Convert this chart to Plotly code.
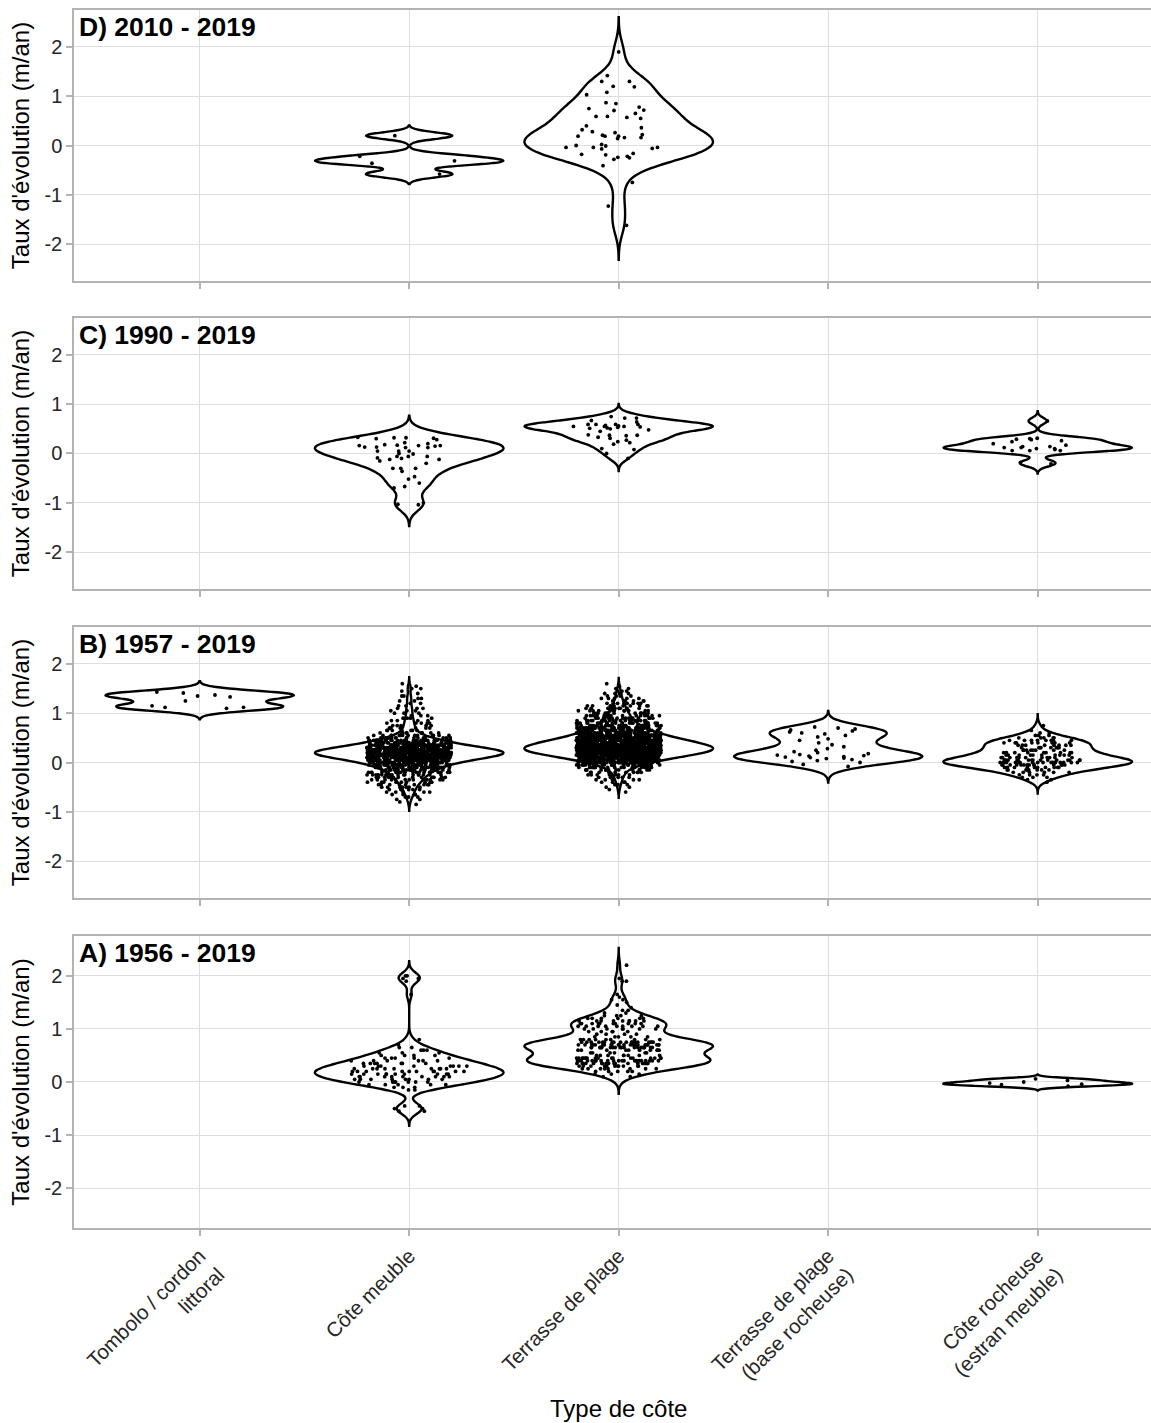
import numpy as np
import plotly.graph_objects as go

# ---------------- data ----------------
categories = ["Tombolo / cordon<br>littoral", "Côte meuble", "Terrasse de plage",
              "Terrasse de plage<br>(base rocheuse)", "Côte rocheuse<br>(estran meuble)"]
panel_titles = ["D) 2010 - 2019", "C) 1990 - 2019", "B) 1957 - 2019", "A) 1956 - 2019"]
y_ticks = [-2, -1, 0, 1, 2]

# Panel D (2010 - 2019)
d_meuble = [0.20, -0.22, -0.31, -0.36, -0.58]
d_terrasse = [1.90, 1.42, 1.30, 1.19, 1.30, 1.20, 1.08, 1.03, 0.87, 0.85, 0.78, 0.75, 0.72,
              0.71, 0.65, 0.59, 0.59, 0.55, 0.57, 0.40, 0.36, 0.32, 0.26, 0.28, 0.22, 0.21,
              0.19, 0.19, 0.19, 0.16, 0.14, 0.16, 0.00, -0.01, 0.02, -0.04, -0.04, -0.06,
              -0.04, -0.07, -0.18, -0.16, -0.19, -0.24, -0.22, -0.25, -0.28, -0.41, -0.75,
              -1.23, -1.62]

# Panel C (1990 - 2019)
c_meuble = [0.31, 0.30, 0.32, 0.33, 0.12, 0.05, 0.16, 0.15, 0.16, 0.05, 0.05, -0.06, -0.06,
            -0.09, -0.12, -0.10, -0.36, -0.30, -0.67, -0.70, -0.60, -1.03, -1.00, -1.04,
            0.28, 0.32, 0.13, 0.13, 0.20, 0.22, 0.18, 0.16, 0.17, 0.12, 0.00, -0.01, -0.06,
            -0.12, -0.15, -0.20, -0.30, -0.30, -0.47, -0.52]
c_terrasse = [0.75, 0.72, 0.64, 0.72, 0.67, 0.59, 0.59, 0.55, 0.59, 0.59, 0.55, 0.55, 0.52,
              0.53, 0.54, 0.56, 0.51, 0.57, 0.50, 0.48, 0.37, 0.37, 0.45, 0.36, 0.38, 0.33,
              0.27, 0.22, 0.19, 0.31, 0.24, 0.08, 0.10, 0.00, -0.10]
c_rocheuse = [0.66, 0.31, 0.24, 0.26, 0.29, 0.14, 0.06, 0.06, 0.14, 0.10, 0.10, 0.08, 0.12,
              0.17, 0.06, 0.28, 0.20, 0.30, 0.12, -0.18, -0.21]

# Panel B (1957 - 2019)
b_tombolo = [1.35, 1.43, 1.15, 1.10, 1.12, 1.37, 1.41, 1.33, 1.25, 1.12]
b_meuble_bins = [-0.85, -0.80, -0.75, -0.70, -0.65, -0.60, -0.55, -0.50, -0.45, -0.40, -0.35,
                 -0.30, -0.25, -0.20, -0.15, -0.10, -0.05, 0.00, 0.05, 0.10, 0.15, 0.20, 0.25,
                 0.30, 0.35, 0.40, 0.45, 0.50, 0.55, 0.60, 0.65, 0.70, 0.75, 0.80, 0.85, 0.90,
                 0.95, 1.00, 1.05, 1.10, 1.15, 1.20, 1.25, 1.30, 1.35, 1.40, 1.45, 1.50, 1.55,
                 1.60]
b_meuble_counts = [1, 1, 2, 3, 4, 5, 6, 7, 9, 11, 13, 15, 18, 21, 25, 30, 38, 48, 60, 75, 90,
                   95, 88, 72, 56, 42, 32, 22, 14, 10, 7, 6, 5, 5, 4, 4, 3, 3, 3, 3, 2, 2, 2,
                   2, 2, 1, 1, 2, 1, 1]
b_terrasse_bins = [-0.60, -0.55, -0.50, -0.45, -0.40, -0.35, -0.30, -0.25, -0.20, -0.15, -0.10,
                   -0.05, 0.00, 0.05, 0.10, 0.15, 0.20, 0.25, 0.30, 0.35, 0.40, 0.45, 0.50,
                   0.55, 0.60, 0.65, 0.70, 0.75, 0.80, 0.85, 0.90, 0.95, 1.00, 1.05, 1.10,
                   1.15, 1.20, 1.25, 1.30, 1.35, 1.40, 1.45, 1.50, 1.55, 1.60]
b_terrasse_counts = [1, 1, 2, 3, 4, 5, 6, 8, 10, 14, 20, 30, 45, 60, 80, 100, 120, 130, 132,
                     125, 110, 95, 80, 66, 54, 44, 36, 30, 25, 21, 18, 16, 14, 12, 10, 9, 8,
                     6, 5, 4, 4, 3, 2, 1, 1]
b_base = [0.72, 0.70, 0.68, 0.66, 0.64, 0.62, 0.60, 0.58, 0.55, 0.52, 0.48, 0.45, 0.40, 0.36,
          0.32, 0.28, 0.25, 0.22, 0.20, 0.18, 0.16, 0.15, 0.14, 0.13, 0.12, 0.11, 0.10, 0.09,
          0.08, 0.06, 0.04, 0.02, 0.00, -0.04, -0.08]
b_rocheuse_bins = [-0.40, -0.35, -0.30, -0.25, -0.20, -0.15, -0.10, -0.05, 0.00, 0.05, 0.10,
                   0.15, 0.20, 0.25, 0.30, 0.35, 0.40, 0.45, 0.50, 0.55, 0.60, 0.65, 0.75]
b_rocheuse_counts = [1, 2, 3, 4, 6, 8, 10, 14, 18, 16, 12, 10, 9, 8, 8, 8, 9, 8, 5, 3, 2, 1, 1]

# Panel A (1956 - 2019)
a_meuble_bins = [-0.55, -0.50, -0.45, -0.15, -0.10, -0.05, 0.00, 0.05, 0.10, 0.15, 0.20,
                 0.25, 0.30, 0.35, 0.40, 0.45, 0.50, 0.55, 0.60, 0.65, 0.70, 0.80, 1.65, 1.90,
                 1.95, 2.00]
a_meuble_counts = [2, 2, 2, 2, 3, 5, 7, 8, 9, 10, 10, 9, 8, 7, 6, 5, 4, 3, 3, 2, 1, 1, 1, 1,
                   2, 2]
a_terrasse_bins = [0.10, 0.15, 0.20, 0.25, 0.30, 0.35, 0.40, 0.45, 0.50, 0.55, 0.60, 0.65,
                   0.70, 0.75, 0.80, 0.85, 0.90, 0.95, 1.00, 1.05, 1.10, 1.15, 1.20, 1.25,
                   1.30, 1.35, 1.40, 1.45, 1.50, 1.55, 1.60, 1.65, 1.90, 1.95, 2.20]
a_terrasse_counts = [2, 3, 5, 8, 12, 18, 22, 18, 8, 6, 10, 20, 24, 18, 9, 5, 4, 5, 7, 9, 10,
                     9, 6, 4, 2, 2, 1, 1, 1, 2, 1, 1, 2, 1, 1]
a_rocheuse = [-0.08, -0.05, -0.04, -0.02, 0.00, 0.03, 0.06]

# which category index each series belongs to, per panel (top to bottom: D, C, B, A)
panel_series = [
    [(1, d_meuble), (2, d_terrasse)],
    [(1, c_meuble), (2, c_terrasse), (4, c_rocheuse)],
    [(0, b_tombolo), (1, np.repeat(b_meuble_bins, b_meuble_counts)),
     (2, np.repeat(b_terrasse_bins, b_terrasse_counts)), (3, b_base),
     (4, np.repeat(b_rocheuse_bins, b_rocheuse_counts))],
    [(1, np.repeat(a_meuble_bins, a_meuble_counts)),
     (2, np.repeat(a_terrasse_bins, a_terrasse_counts)), (4, a_rocheuse)],
]

# ---------------- layout geometry ----------------
W, H = 1151, 1423
M_L, M_R, M_T, M_B = 74, 0, 10, 195
plot_h = H - M_T - M_B
panel_px = [(10, 281), (318, 589), (627, 898), (936, 1228)]
domains = [[1 - (b - M_T) / plot_h, 1 - (t - M_T) / plot_h] for t, b in panel_px]
domains = [[max(0, round(a, 5)), min(1, round(b, 5))] for a, b in domains]

FONT = "Liberation Sans, Arial, Helvetica, sans-serif"
GRID = "#DEDEDE"
BORDER = "#B3B3B3"
TXT = "#262626"


def nrd0(v):
    v = np.asarray(v, dtype=float)
    sd = np.std(v, ddof=1)
    iqr = np.subtract(*np.percentile(v, [75, 25]))
    lo = min(sd, iqr / 1.34)
    if lo <= 0:
        lo = sd if sd > 0 else (abs(v[0]) if v[0] != 0 else 1)
    return 0.9 * lo * len(v) ** (-0.2)


fig = go.Figure()
for p, series in enumerate(panel_series):
    ax = "" if p == 0 else str(p + 1)
    for idx, vals in series:
        vals = np.asarray(vals, dtype=float)
        bw = nrd0(vals)
        fig.add_trace(go.Violin(
            x=np.full(len(vals), idx), y=vals,
            xaxis="x" + ax, yaxis="y" + ax,
            points="all", jitter=0.62 if len(vals) < 120 else 0.45, pointpos=0,
            marker=dict(size=3.8, color="black"),
            line=dict(color="black", width=2.4),
            fillcolor="rgba(0,0,0,0)",
            scalemode="width", width=0.9,
            bandwidth=bw, spanmode="manual",
            span=[vals.min() - 3 * bw, vals.max() + 3 * bw],
            box_visible=False, meanline_visible=False,
            showlegend=False, hoverinfo="y",
        ))

layout = dict(
    width=W, height=H,
    margin=dict(l=M_L, r=M_R, t=M_T, b=M_B, autoexpand=False),
    paper_bgcolor="white", plot_bgcolor="white",
    font=dict(family=FONT, color=TXT),
    violinmode="overlay",
    showlegend=False,
    annotations=[],
)
x_range = [-0.6, -0.6 + (W - M_L - M_R) / 209.5]
for p in range(4):
    ax = "" if p == 0 else str(p + 1)
    last = p == 3
    layout["xaxis" + ax] = dict(
        domain=[0, 1], anchor="y" + ax, range=x_range, automargin=False,
        tickvals=list(range(len(categories))), ticktext=categories,
        showticklabels=last, tickangle=-45 if last else 0,
        tickfont=dict(size=20.5, color=TXT, family=FONT),
        showgrid=True, gridcolor=GRID, gridwidth=1, zeroline=False,
        showline=True, linecolor=BORDER, linewidth=1.5, mirror=True,
        ticks="outside", ticklen=6, tickwidth=1.5, tickcolor=BORDER,
    )
    layout["yaxis" + ax] = dict(
        domain=domains[p], anchor="x" + ax, range=[-2.75, 2.75], automargin=False,
        tickvals=y_ticks, ticktext=[str(v) for v in y_ticks],
        tickfont=dict(size=20, color=TXT, family=FONT),
        showgrid=True, gridcolor=GRID, gridwidth=1, zeroline=False,
        showline=True, linecolor=BORDER, linewidth=1.5, mirror=False,
        ticks="outside", ticklen=6, tickwidth=1.5, tickcolor=BORDER,
        title=dict(text="Taux d'évolution (m/an)", font=dict(size=24, color="black", family=FONT),
                   standoff=8),
    )
    layout["annotations"].append(dict(
        text="<b>" + panel_titles[p] + "</b>",
        xref="x" + ax + " domain", yref="y" + ax + " domain",
        x=0.003, y=1.0, xanchor="left", yanchor="top", showarrow=False,
        font=dict(size=26.5, color="black", family=FONT),
    ))

layout["annotations"].append(dict(
    text="Type de côte", xref="paper", yref="paper",
    x=(618 - M_L) / (W - M_L - M_R), y=1 - (1408 - M_T) / plot_h,
    xanchor="center", yanchor="middle", showarrow=False,
    font=dict(size=24, color="black", family=FONT),
))

fig.update_layout(**layout)
fig.write_html("out.html",
               config={"displayModeBar": False},
               post_script="document.body.style.margin='0px';"
                           "document.body.style.overflow='hidden';")
